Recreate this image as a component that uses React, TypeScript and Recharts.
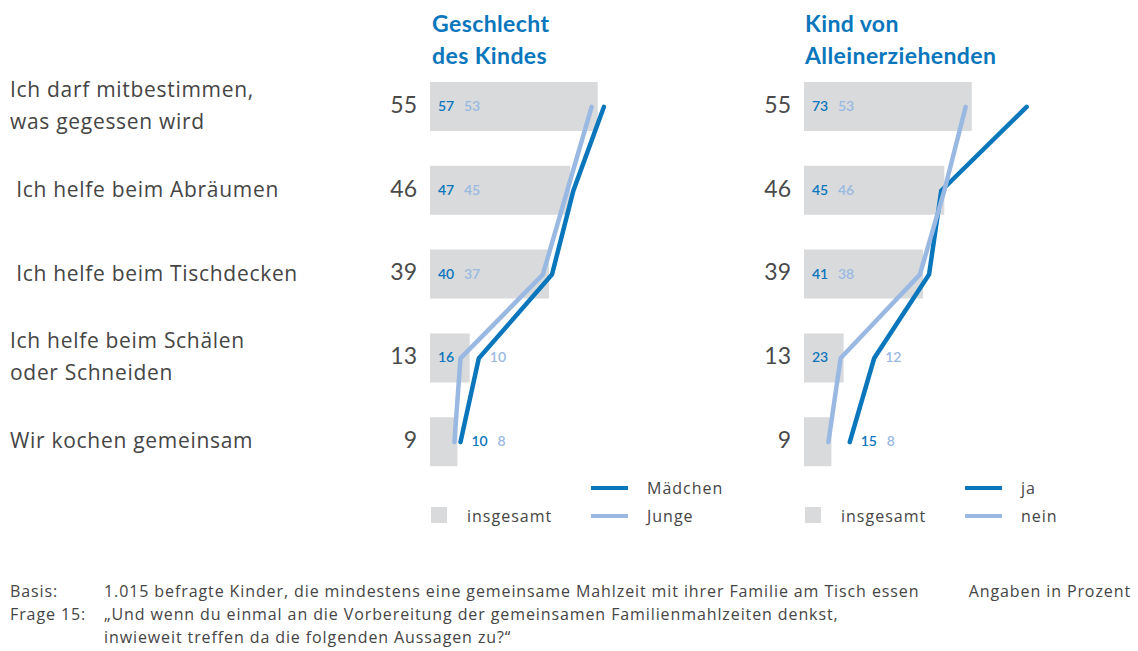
import React from "react"
import { ComposedChart, Bar, Line, XAxis, YAxis, LabelList } from "recharts"

const FRAGEN = [
  "Ich darf mitbestimmen,\nwas gegessen wird",
  " Ich helfe beim Abräumen",
  " Ich helfe beim Tischdecken",
  "Ich helfe beim Schälen\noder Schneiden",
  "Wir kochen gemeinsam",
]
const INSGESAMT = [55, 46, 39, 13, 9]
const MAEDCHEN = [57, 47, 40, 16, 10]
const JUNGE = [53, 45, 37, 10, 8]
const JA = [73, 45, 41, 23, 15]
const NEIN = [53, 46, 38, 12, 8]

const DARK = "#0a76bc"
const LIGHT = "#9ab9e2"
const GRAY = "#d9dadc"
const TEXT = "#454545"
const FONT = "Lato, 'Open Sans', sans-serif"
const BODY = "'Open Sans', sans-serif"

type Row = { frage: string; insgesamt: number; a: number; b: number }

const buildRows = (a: number[], b: number[]): Row[] =>
  FRAGEN.map((f, i) => ({ frage: f, insgesamt: INSGESAMT[i], a: a[i], b: b[i] }))

const rowsLeft = buildRows(MAEDCHEN, JUNGE)
const rowsRight = buildRows(JA, NEIN)

// value labels sit at the bar start, pushed to the right when a line is in the way
const makeValueLabel = (rows: Row[]) => (props: any) => {
  const { x, y, width, height, index } = props
  const r = rows[index]
  if (!r) return null
  const unit = width / r.insgesamt
  const lineXs = [x + r.a * unit, x + r.b * unit]
  const cy = y + height / 2 + 1
  let cursor = x + 8
  const out: React.ReactNode[] = []
  ;[
    { v: r.a, c: DARK },
    { v: r.b, c: LIGHT },
  ].forEach((item, k) => {
    const w = String(item.v).length * 8
    if (lineXs.some(lx => lx > cursor - 5 && lx < cursor + w + 4)) {
      cursor = Math.max(...lineXs) + 11
    }
    out.push(
      <text key={k} x={cursor} y={cy} fontSize={14} fill={item.c} fontFamily={FONT} fontWeight={600} dominantBaseline="middle">
        {item.v}
      </text>
    )
    cursor += w + 10
  })
  return <g>{out}</g>
}

const NumberTick = ({ x, y, payload, index }: any) => {
  const i = payload?.index ?? index
  return (
    <text x={x} y={y} textAnchor="end" dominantBaseline="middle" fontSize={23} fill="#4a4a4a" fontFamily={FONT}>
      {INSGESAMT[i]}
    </text>
  )
}

const FrageTick = (props: any) => {
  const { y, payload } = props
  const lines = String(payload.value).split("\n")
  return (
    <g>
      <text x={10} y={y} fontSize={21} letterSpacing={0.7} fill={TEXT} fontFamily={BODY} dominantBaseline="middle" style={{ whiteSpace: "pre" }}>
        {lines.map((l, k) => (
          <tspan key={k} x={10} dy={k === 0 ? -(lines.length - 1) * 16 : 32}>{l}</tspan>
        ))}
      </text>
      <NumberTick {...props} />
    </g>
  )
}

function Panel({ rows, left, width, yWidth, tick }: { rows: Row[]; left: number; width: number; yWidth: number; tick: any }) {
  return (
    <div style={{ position: "absolute", left, top: 0 }}>
      <ComposedChart
        layout="vertical"
        width={width}
        height={490}
        data={rows}
        margin={{ top: 65, right: width - yWidth - 244, bottom: 6, left: 0 }}
      >
        <XAxis type="number" domain={[0, 80]} hide />
        <YAxis
          type="category"
          dataKey="frage"
          width={yWidth}
          axisLine={false}
          tickLine={false}
          tickSize={0}
          tickMargin={13}
          tick={tick}
          interval={0}
        />
        <Bar dataKey="insgesamt" fill={GRAY} barSize={49} isAnimationActive={false}>
          <LabelList dataKey="insgesamt" content={makeValueLabel(rows)} />
        </Bar>
        <Line dataKey="a" type="linear" stroke={DARK} strokeWidth={4.5} strokeLinecap="round" dot={false} activeDot={false} isAnimationActive={false} />
        <Line dataKey="b" type="linear" stroke={LIGHT} strokeWidth={4.5} strokeLinecap="round" dot={false} activeDot={false} isAnimationActive={false} />
      </ComposedChart>
    </div>
  )
}

const abs = (left: number, top: number, extra: React.CSSProperties = {}): React.CSSProperties => ({
  position: "absolute", left, top, fontFamily: BODY, color: TEXT, whiteSpace: "nowrap", ...extra,
})

function Legend({ left, a, b }: { left: number; a: string; b: string }) {
  const txt: React.CSSProperties = { fontSize: 16, lineHeight: "24px", letterSpacing: 1 }
  return (
    <>
      <div style={abs(left, 507, { width: 16, height: 16, background: GRAY })} />
      <div style={abs(left + 36, 504, txt)}>insgesamt</div>
      <div style={abs(left + 160, 486, { width: 37, height: 4, background: DARK })} />
      <div style={abs(left + 160, 514, { width: 37, height: 4, background: LIGHT })} />
      <div style={abs(left + 216, 476, txt)}>{a}</div>
      <div style={abs(left + 216, 504, txt)}>{b}</div>
    </>
  )
}

export default function App() {
  const title: React.CSSProperties = { fontSize: 23, fontWeight: 700, lineHeight: "32px", color: DARK, fontFamily: FONT, letterSpacing: 0.4 }
  const foot: React.CSSProperties = { fontSize: 16, lineHeight: "23px", letterSpacing: 0.9 }
  return (
    <div style={{ position: "absolute", left: 0, top: 0, width: 1138, height: 651, background: "#fff", overflow: "hidden" }}>
      <div style={abs(432, 7, title)}>Geschlecht<br />des Kindes</div>
      <div style={abs(805, 7, title)}>Kind von<br />Alleinerziehenden</div>
      <Panel rows={rowsLeft} left={0} width={680} yWidth={430} tick={FrageTick} />
      <Panel rows={rowsRight} left={680} width={458} yWidth={124} tick={NumberTick} />
      <Legend left={431} a="Mädchen" b="Junge" />
      <Legend left={805} a="ja" b="nein" />
      <div style={abs(10, 580, foot)}>Basis:<br />Frage 15:</div>
      <div style={abs(104, 580, foot)}>
        1.015 befragte Kinder, die mindestens eine gemeinsame Mahlzeit mit ihrer Familie am Tisch essen<br />
        „Und wenn du einmal an die Vorbereitung der gemeinsamen Familienmahlzeiten denkst,<br />
        inwieweit treffen da die folgenden Aussagen zu?“
      </div>
      <div style={{ ...abs(0, 580, foot), left: "auto", right: 7 }}>Angaben in Prozent</div>
    </div>
  )
}
